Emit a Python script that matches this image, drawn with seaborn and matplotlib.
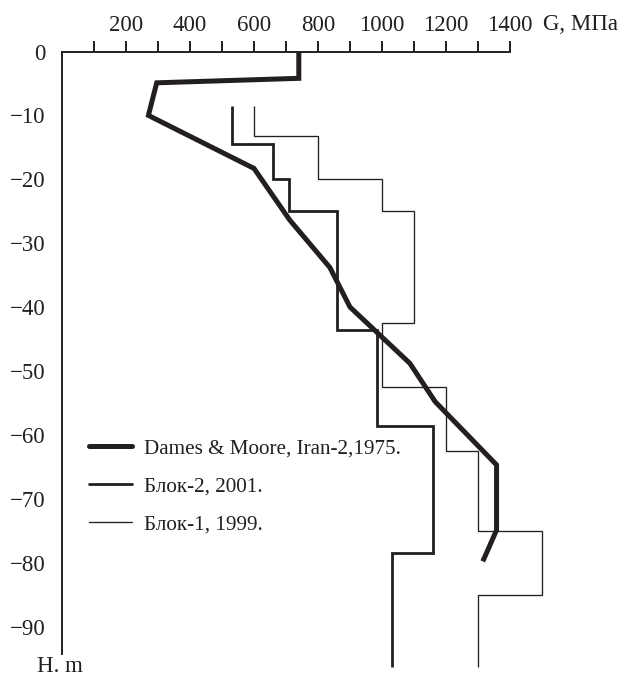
import matplotlib
matplotlib.use("Agg")
import matplotlib.pyplot as plt
from matplotlib.lines import Line2D
import seaborn as sns
import pandas as pd

# Shear modulus profiles G (MPa) versus depth H (m)
dames_g = [740, 740, 296, 270, 600, 712, 837, 900, 1087, 1166, 1358, 1358, 1315]
dames_h = [0, -4.2, -4.9, -10, -18.3, -26.4, -33.8, -40, -48.8, -54.8, -64.7, -74.9, -79.8]

blok2_g = [530, 530, 660, 660, 710, 710, 860, 860, 985, 985, 1160, 1160, 1030, 1030]
blok2_h = [-8.5, -14.5, -14.5, -20, -20, -25, -25, -43.6, -43.6, -58.6, -58.6, -78.5, -78.5, -96.3]

blok1_g = [600, 600, 800, 800, 1000, 1000, 1100, 1100, 1000, 1000, 1200, 1200,
           1300, 1300, 1500, 1500, 1300, 1300]
blok1_h = [-8.5, -13.3, -13.3, -20, -20, -25, -25, -42.5, -42.5, -52.5, -52.5, -62.5,
           -62.5, -75, -75, -85, -85, -96.3]

series_labels = ["Dames & Moore, Iran-2,1975.", "Блок-2, 2001.", "Блок-1, 1999."]

x_ticks = list(range(100, 1500, 100))
x_tick_labels = [str(v) if v % 200 == 0 else "" for v in x_ticks]
y_ticks = list(range(0, -100, -10))
y_tick_labels = ["0"] + ["\u2212" + str(-v) for v in y_ticks[1:]]

INK = "#231f20"
WIDTHS = [3.6, 2.0, 0.95]
TICK_FS = 16.5
LEGEND_FS = 15.2

sns.set_theme(style="white")
plt.rcParams["font.family"] = ["Liberation Serif", "DejaVu Serif"]
plt.rcParams["text.color"] = INK
plt.rcParams["axes.edgecolor"] = INK
plt.rcParams["xtick.color"] = INK
plt.rcParams["ytick.color"] = INK

fig = plt.figure(figsize=(6.24, 6.78), dpi=100)
ax = fig.add_axes([62 / 624, 24 / 678, 448 / 624, 602.5 / 678])

frames = []
for lab, g, h in zip(series_labels, [dames_g, blok2_g, blok1_g], [dames_h, blok2_h, blok1_h]):
    frames.append(pd.DataFrame({"G": g, "H": h, "series": lab}))
df = pd.concat(frames, ignore_index=True)

for lab, lw in zip(series_labels, WIDTHS):
    sub = df[df["series"] == lab]
    sns.lineplot(data=sub, x="G", y="H", sort=False, estimator=None, ax=ax,
                 color=INK, linewidth=lw, solid_joinstyle="miter",
                 solid_capstyle="butt", clip_on=False, legend=False)

ax.set_xlim(0, 1400)
ax.set_ylim(-94.3, 0)
ax.xaxis.tick_top()
ax.set_xticks(x_ticks)
ax.set_xticklabels(x_tick_labels, fontsize=TICK_FS)
ax.set_yticks(y_ticks)
ax.set_yticklabels(y_tick_labels, fontsize=TICK_FS)
ax.tick_params(axis="x", which="major", direction="out", length=8, width=1.4, pad=3.5,
               top=True, bottom=False)
ax.tick_params(axis="y", which="major", direction="out", length=8, width=1.4, pad=4)
ax.set_xlabel("")
ax.set_ylabel("")
for side in ["right", "bottom"]:
    ax.spines[side].set_visible(False)
for side in ["left", "top"]:
    ax.spines[side].set_linewidth(1.4)
    ax.spines[side].set_color(INK)

fig.text(543 / 624, 1 - 25 / 678, "G, МПа", fontsize=TICK_FS, ha="left", va="center")
fig.text(60 / 624, 1 - 666 / 678, "H. m", fontsize=TICK_FS, ha="center", va="center")

handles = [Line2D([0], [0], color=INK, linewidth=lw) for lw in WIDTHS]
leg = ax.legend(handles, series_labels, loc="upper left",
                bbox_to_anchor=(89 / 624, 1 - 439 / 678), bbox_transform=fig.transFigure,
                frameon=False, fontsize=LEGEND_FS, handlelength=2.04, handletextpad=0.57,
                labelspacing=0.85, borderpad=0, borderaxespad=0)

fig.savefig("out.png", dpi=100)
